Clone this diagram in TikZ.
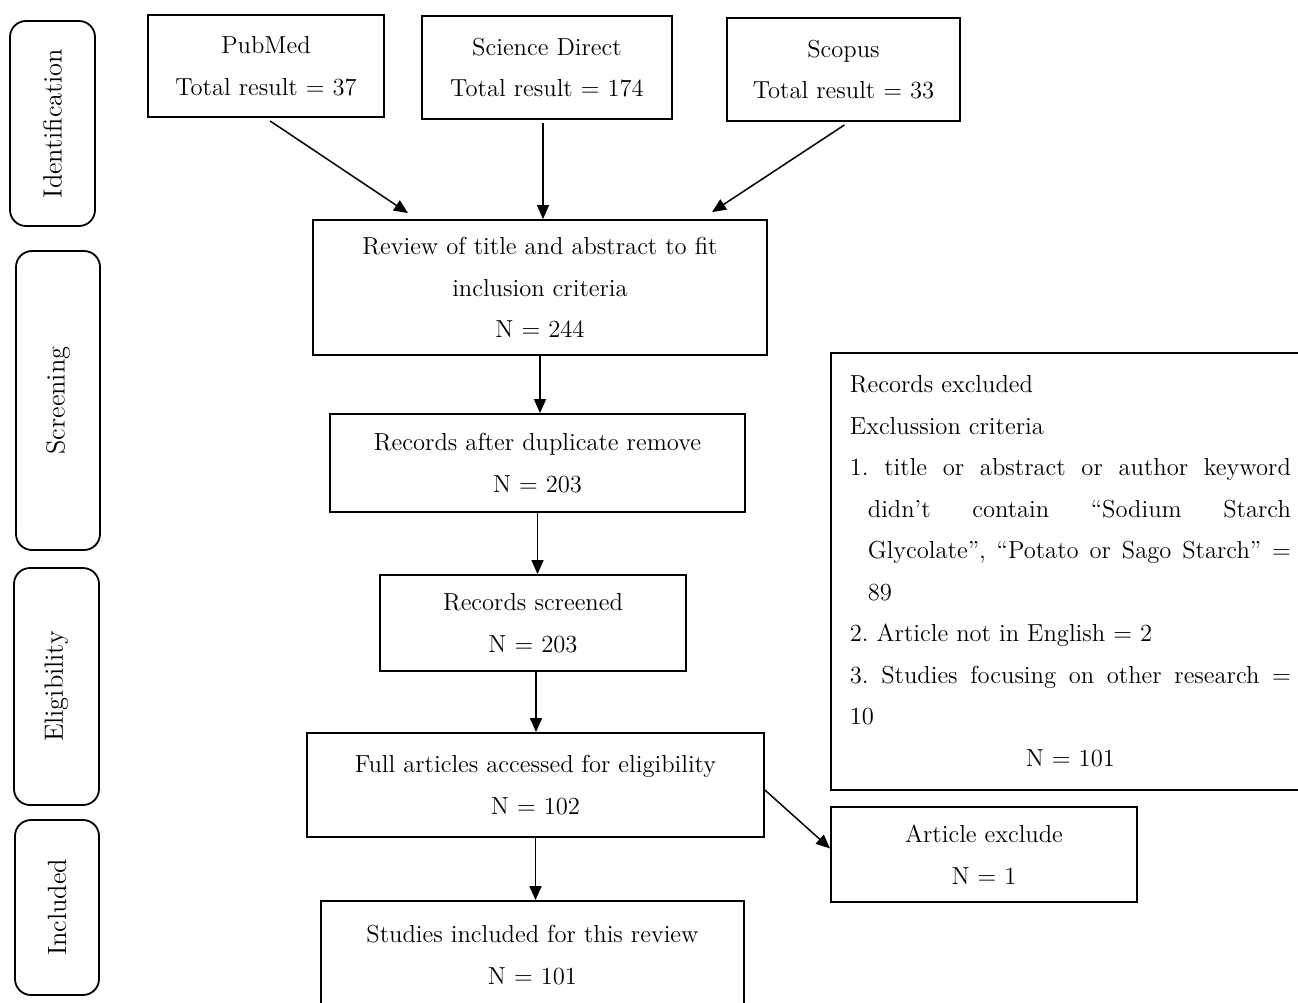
\documentclass[tikz,border=0pt]{standalone}
\usepackage{tikz}
\usetikzlibrary{arrows.meta}

\begin{document}
\begin{tikzpicture}[x=0.5pt, y=-0.5pt, font=\fontsize{12.3}{20.75}\selectfont,
    >={Triangle[length=7pt,width=6pt]},
    box/.style={draw, line width=0.9pt, align=center, inner sep=0pt},
    stage/.style={draw, line width=0.9pt, rounded corners=8pt, rotate=90, inner sep=0pt,
                  font=\fontsize{13.2}{16}\selectfont},
    arr/.style={->, line width=0.75pt}]

\useasboundingbox (0,0) rectangle (1298,1003);

% stages on the left
\node[stage, minimum width=102.5pt, minimum height=42.5pt] (ident) at (52.5,123.5) {Identification};
\node[stage, minimum width=149.5pt, minimum height=42pt] (scr) at (58,400.5) {Screening};
\node[stage, minimum width=118.5pt, minimum height=42.5pt] (eli) at (56.5,686.5) {Eligibility};
\node[stage, minimum width=87.5pt, minimum height=42pt] (inc) at (57,907.5) {Included};

% databases
\node[box, minimum width=118pt, minimum height=51pt] (pub) at (266,66) {PubMed\\Total result = 37};
\node[box, minimum width=125pt, minimum height=51.5pt] (sd) at (547,67.5) {Science Direct\\Total result = 174};
\node[box, minimum width=116.5pt, minimum height=51.5pt] (sco) at (843.5,69.5) {Scopus\\Total result = 33};

% main flow
\node[box, minimum width=227pt, minimum height=67.5pt] (rev) at (540,287.5) {Review of title and abstract to fit\\inclusion criteria\\N = 244};
\node[box, minimum width=207.5pt, minimum height=49pt] (dup) at (537.5,463) {Records after duplicate remove\\N = 203};
\node[box, minimum width=153pt, minimum height=48pt] (scrn) at (533,623) {Records screened\\N = 203};
\node[box, minimum width=228.5pt, minimum height=52pt] (full) at (535.5,785) {Full articles accessed for eligibility\\N = 102};
\node[box, minimum width=211.5pt, minimum height=54pt] (incl) at (532.5,955) {Studies included for this review\\N = 101};

% exclusions
\node[box, align=left, anchor=north west, text width=220.5pt, inner xsep=9.5pt, inner ysep=11pt,
      minimum height=218.5pt] (excl) at (830,352) {\noindent\spaceskip=0pt\xspaceskip=0pt\frenchspacing
Records excluded\\
Exclussion criteria\\
\makebox[220.5pt][s]{1. title or abstract or author keyword}\\
\hspace*{9pt}\makebox[211.5pt][s]{didn’t contain “Sodium Starch}\\
\hspace*{9pt}\makebox[211.5pt][s]{Glycolate”, “Potato or Sago Starch” =}\\
\hspace*{9pt}89\\
2. Article not in English = 2\\
\makebox[220.5pt][s]{3. Studies focusing on other research =}\\
10\\
\makebox[220.5pt]{N = 101}};
\node[box, minimum width=153pt, minimum height=47.5pt] (art) at (984,854.5) {Article exclude\\N = 1};

% arrows
\draw[arr] ([shift={(4,3)}]pub.south) -- ([shift={(-132,-6)}]rev.north);
\draw[arr] ([shift={(-4,3)}]sd.south) -- ([shift={(3,0)}]rev.north);
\draw[arr] ([shift={(1,3)}]sco.south) -- ([shift={(172,-7)}]rev.north);
\draw[arr] (rev.south) -- (rev.south |- dup.north);
\draw[arr] (dup.south) -- (dup.south |- scrn.north);
\draw[arr] ([shift={(3,0)}]scrn.south) -- ([shift={(3,0)}]scrn.south |- full.north);
\draw[arr] (full.south) -- (full.south |- incl.north);
\draw[arr] ([shift={(0,5)}]full.east) -- ([shift={(0,-6)}]art.west);

\end{tikzpicture}
\end{document}
